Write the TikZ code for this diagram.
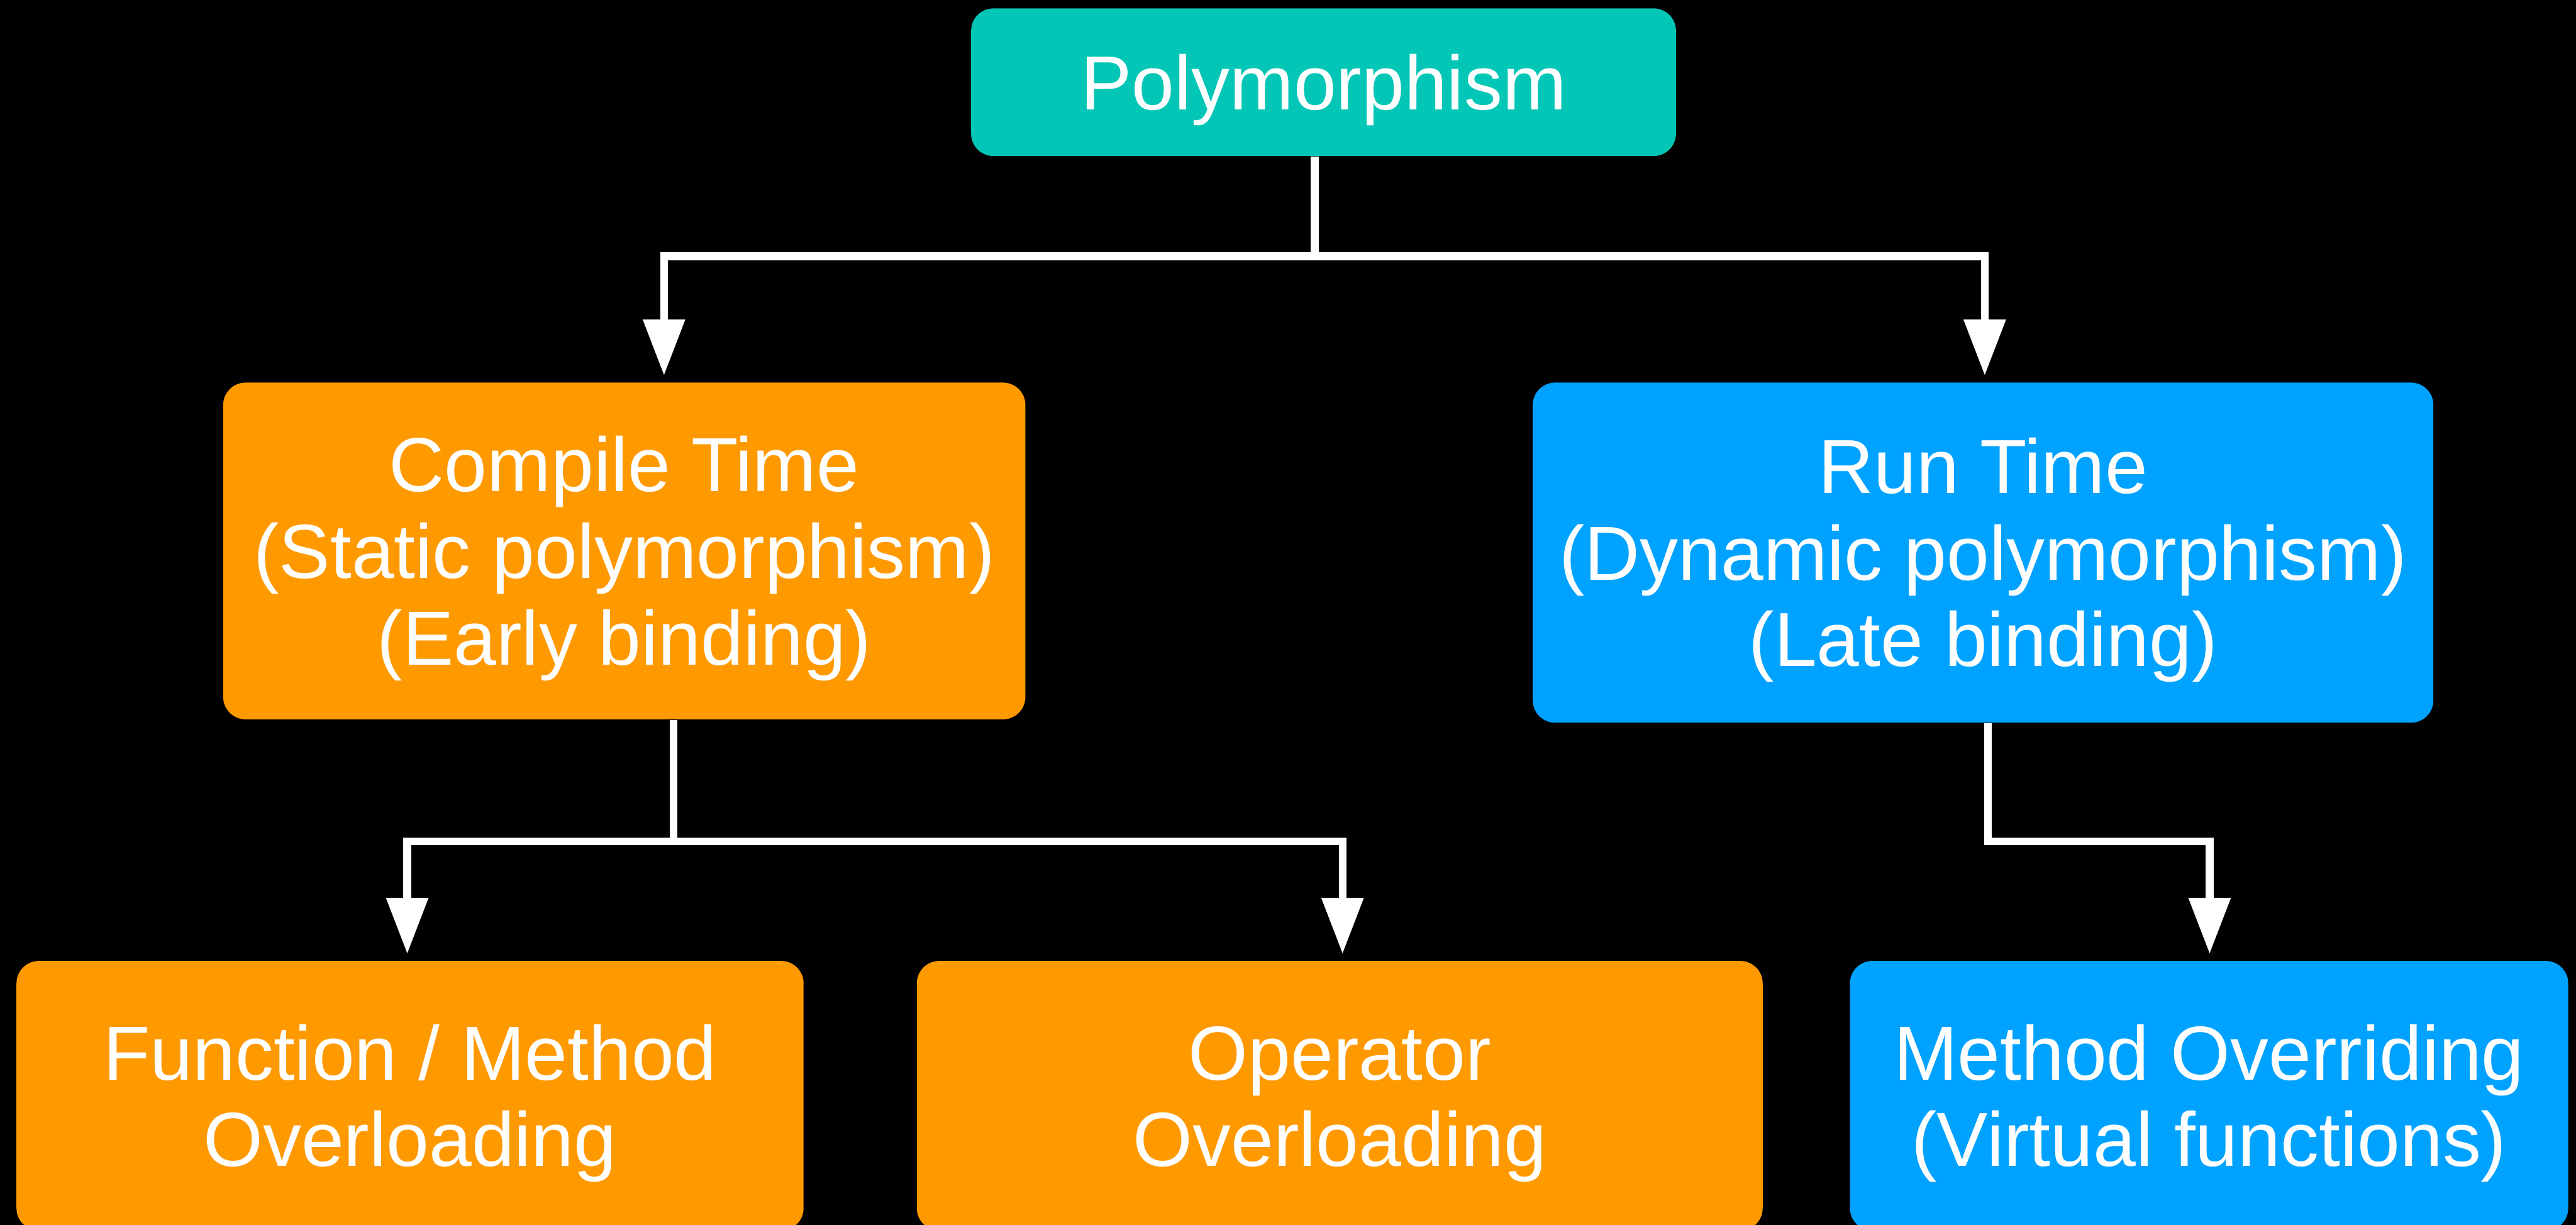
\documentclass[tikz,border=0pt]{standalone}
\usepackage{fontspec}
\setmainfont{Liberation Sans}
\usepackage{tikz}
\usetikzlibrary{arrows.meta}
\usetikzlibrary{positioning}

\definecolor{rootteal}{HTML}{03C6B6}
\definecolor{boxorange}{HTML}{FF9900}
\definecolor{boxblue}{HTML}{00A2FF}
\newcommand{\lift}{\rule{0pt}{1.26cm}}

\begin{document}
\begin{tikzpicture}
	[every node/.style={rounded corners=0.4cm,text=white,align=center,inner sep=0pt,
		font=\fontsize{39}{44}\selectfont},
	 wire/.style={draw=white,line width=0.14cm},
	 arrow/.style={wire,-{Triangle[width=0.72cm,length=1cm]},shorten >=0.12cm}]
	\fill[black] (0,0) rectangle (46.05,-21.9);
	\useasboundingbox (0,0) rectangle (46.05,-21.9);
	\begin{scope}
	\clip (0,0) rectangle (46.05,-21.9);
	\node[fill=rootteal,minimum width=12.6cm,minimum height=2.64cm] (root) at (23.66,-1.47) {\lift Polymorphism};
	\node[fill=boxorange,minimum width=14.34cm,minimum height=6.02cm] (compile) at (11.16,-9.85) {\lift Compile Time\\(Static polymorphism)\\(Early binding)};
	\node[fill=boxblue,minimum width=16.10cm,minimum height=6.08cm] (run) at (35.45,-9.88) {\lift Run Time\\(Dynamic polymorphism)\\(Late binding)};
	\node[fill=boxorange,minimum width=14.07cm,minimum height=4.82cm] (func) at (7.33,-19.59) {\lift Function / Method\\Overloading};
	\node[fill=boxorange,minimum width=15.12cm,minimum height=4.82cm] (op) at (23.95,-19.59) {\lift Operator\\Overloading};
	\node[fill=boxblue,minimum width=12.84cm,minimum height=4.82cm] (meth) at (39.49,-19.59) {\lift Method Overriding\\(Virtual functions)};
	\end{scope}

	% branch points
	\coordinate (j0) at (23.50,-4.58);
	\coordinate (j1) at (12.04,-15.04);
	\coordinate (j2) at (35.54,-15.04);
	\coordinate (xa) at (11.87,0);
	\coordinate (xb) at (35.48,0);
	\coordinate (xc) at (7.28,0);
	\coordinate (xd) at (24.00,0);
	\coordinate (xe) at (39.50,0);

	\draw[wire] (root.south -| j0) -- (j0);
	\draw[wire] (compile.south -| j1) -- (j1);
	\foreach \from/\to in
	{j0/compile.north -| xa, j0/run.north -| xb, j1/func.north -| xc, j1/op.north -| xd}
	\draw[arrow] (\from) -| (\to);
	\draw[arrow] (run.south -| j2) |- (j2 -| xe) -- (meth.north -| xe);
\end{tikzpicture}
\end{document}
